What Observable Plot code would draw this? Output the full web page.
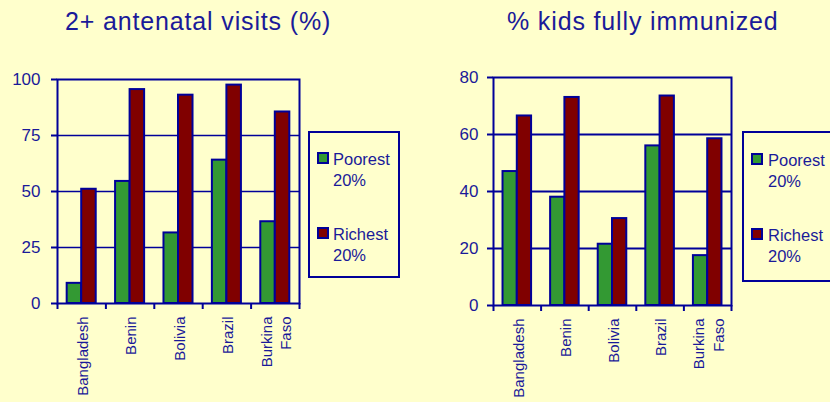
<!DOCTYPE html>
<html>
<head>
<meta charset="utf-8">
<script src="https://cdn.jsdelivr.net/npm/d3@7"></script>
<script src="https://cdn.jsdelivr.net/npm/@observablehq/plot@0.6"></script>
<style>
  html, body { margin: 0; padding: 0; background: #FFFFCC; }
  #wrap { position: relative; width: 830px; height: 402px; overflow: hidden; background: #FFFFCC; font-family: "Liberation Sans", Arial, sans-serif; color: #1a1a99; }
  .abs { position: absolute; white-space: nowrap; }
  .title { font-size: 25px; line-height: 25px; letter-spacing: 0.85px; }
  .legbox { position: absolute; border: 2px solid #000099; box-sizing: border-box; }
  .sw { position: absolute; width: 12px; height: 12px; box-sizing: border-box; border: 2px solid #000099; }
  .lt { position: absolute; font-size: 16.5px; line-height: 21px; white-space: nowrap; }
</style>
</head>
<body>
<div id="wrap"></div>
<script>
// ---- data ----
const countries = ["Bangladesh", "Benin", "Bolivia", "Brazil", "Burkina\nFaso"];
const groups = ["Poorest 20%", "Richest 20%"];
const antenatalPoorest = [9, 54.5, 31.5, 64, 36.5];
const antenatalRichest = [51, 95.5, 93, 97.5, 85.5];
const immunizedPoorest = [47, 38, 21.5, 56, 17.5];
const immunizedRichest = [66.5, 73, 30.5, 73.5, 58.5];
const antenatalTicks = [0, 25, 50, 75, 100];
const immunizedTicks = [0, 20, 40, 60, 80];
const titles = ["2+ antenatal visits (%)", "% kids fully immunized"];
const colors = ["#339933", "#800000"];

const navy = "#000099";
const textColor = "#1a1a99";

function longData(poor, rich) {
  const out = [];
  countries.forEach((c, i) => {
    out.push({country: c, i, group: groups[0], g: 0, value: poor[i]});
    out.push({country: c, i, group: groups[1], g: 1, value: rich[i]});
  });
  return out;
}

function chart({data, ticks, width, height, ml, mr, mt, mb, tickPad, gridWidth}) {
  const inner = ticks.slice(1, -1);
  return Plot.plot({
    width, height,
    marginLeft: ml, marginRight: mr, marginTop: mt, marginBottom: mb,
    style: {background: "transparent", fontFamily: "'Liberation Sans', Arial, sans-serif", color: textColor, overflow: "visible"},
    x: {type: "linear", domain: [0, countries.length], axis: null},
    y: {domain: [ticks[0], ticks[ticks.length - 1]], axis: null},
    color: {domain: groups, range: colors},
    marks: [
      Plot.gridY(inner, {stroke: navy, strokeOpacity: 1, strokeWidth: gridWidth}),
      Plot.rectY(data, {
        x1: d => d.i + 0.2 + d.g * 0.3,
        x2: d => d.i + 0.5 + d.g * 0.3,
        y1: 0, y2: "value",
        fill: "group", stroke: navy, strokeWidth: 2
      }),
      Plot.frame({stroke: navy, strokeWidth: 2}),
      Plot.axisY({ticks, label: null, tickSize: 6, tickPadding: tickPad, fontSize: 17, stroke: navy, strokeWidth: 2, color: textColor, tickFormat: d => String(d)}),
      Plot.axisX({ticks: d3.range(countries.length + 1), label: null, tickSize: 6, tickFormat: () => "", stroke: navy, strokeWidth: 2}),
      Plot.axisX({ticks: d3.range(countries.length).map(i => i + 0.5), label: null, tickSize: 0, tickPadding: 13, tickRotate: -90, fontSize: 15, lineHeight: 1.3, tickFormat: v => countries[Math.floor(v)], color: textColor})
    ]
  });
}

const wrap = document.getElementById("wrap");

function place(el, left, top) {
  el.style.position = "absolute";
  el.style.left = left + "px";
  el.style.top = top + "px";
  wrap.appendChild(el);
}

const c1 = chart({data: longData(antenatalPoorest, antenatalRichest), ticks: antenatalTicks, width: 305, height: 402, ml: 57, mr: 6, mt: 79, mb: 99, tickPad: 11, gridWidth: 1.5});
place(c1, 0, 0);
const c2 = chart({data: longData(immunizedPoorest, immunizedRichest), ticks: immunizedTicks, width: 315, height: 402, ml: 73, mr: 4, mt: 77, mb: 97, tickPad: 9, gridWidth: 2});
place(c2, 420, 0);

// titles
function addTitle(text, left, top) {
  const d = document.createElement("div");
  d.className = "abs title";
  d.textContent = text;
  d.style.left = left + "px"; d.style.top = top + "px";
  wrap.appendChild(d);
}
addTitle(titles[0], 65, 9);
addTitle(titles[1], 507, 9);

// legends
function addLegend(box, sw, textX, rows) {
  const b = document.createElement("div");
  b.className = "legbox";
  Object.assign(b.style, {left: box[0] + "px", top: box[1] + "px", width: box[2] + "px", height: box[3] + "px"});
  wrap.appendChild(b);
  groups.forEach((g, k) => {
    const s = document.createElement("div");
    s.className = "sw";
    s.style.left = sw + "px";
    s.style.top = rows[k] + "px";
    s.style.background = colors[k];
    wrap.appendChild(s);
    const parts = g.split(" ");
    const t = document.createElement("div");
    t.className = "lt";
    t.style.left = textX + "px";
    t.style.top = (rows[k] - 3) + "px";
    t.innerHTML = parts[0] + "<br>" + parts[1];
    wrap.appendChild(t);
  });
}
addLegend([308, 131, 92, 147], 317, 333, [152, 227]);
addLegend([742, 131, 120, 151], 751, 768, [153, 228]);
</script>
</body>
</html>
